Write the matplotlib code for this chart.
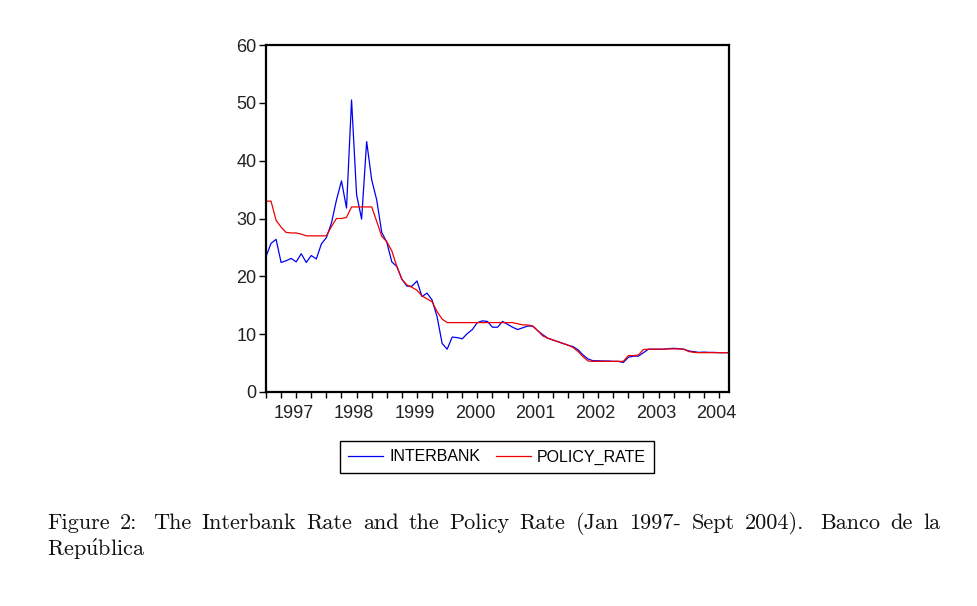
import matplotlib
matplotlib.use('Agg')
import matplotlib.pyplot as plt

# ---------------- data (monthly, Jan 1997 - Sep 2004) ----------------
interbank = [
    23.4, 25.7, 26.4, 22.4, 22.7, 23.1, 22.5, 23.9, 22.4, 23.6, 23.0, 25.6,   # 1997
    26.7, 29.2, 33.2, 36.5, 31.8, 50.5, 34.1, 29.9, 43.3, 36.7, 33.2, 27.6,   # 1998
    25.9, 22.5, 21.7, 19.5, 18.3, 18.3, 19.2, 16.5, 17.1, 15.9, 13.0, 8.4,    # 1999
    7.4, 9.5, 9.4, 9.2, 10.1, 10.8, 12.0, 12.3, 12.2, 11.2, 11.2, 12.2,       # 2000
    11.7, 11.2, 10.8, 11.1, 11.4, 11.4, 10.6, 9.9, 9.3, 9.0, 8.7, 8.4,        # 2001
    8.1, 7.85, 7.3, 6.4, 5.7, 5.4, 5.4, 5.36, 5.36, 5.3, 5.3, 5.1,            # 2002
    6.0, 6.2, 6.2, 6.8, 7.4, 7.4, 7.4, 7.4, 7.5, 7.55, 7.5, 7.4,              # 2003
    7.1, 6.97, 6.85, 6.9, 6.85, 6.85, 6.8, 6.8, 6.8,                          # 2004
]
policy_rate = [
    33.0, 33.0, 29.7, 28.5, 27.6, 27.5, 27.5, 27.3, 27.0, 27.0, 27.0, 27.0,   # 1997
    27.0, 28.6, 30.0, 30.0, 30.2, 32.0, 32.0, 32.0, 32.0, 32.0, 29.5, 26.9,   # 1998
    26.0, 24.4, 21.7, 19.5, 18.5, 18.1, 17.6, 16.6, 16.1, 15.6, 13.9, 12.6,   # 1999
    12.0, 12.0, 12.0, 12.0, 12.0, 12.0, 12.0, 12.0, 12.0, 12.0, 12.0, 12.0,   # 2000
    12.0, 12.0, 11.8, 11.6, 11.6, 11.4, 10.6, 9.7, 9.3, 9.0, 8.7, 8.4,        # 2001
    8.1, 7.7, 7.0, 6.1, 5.36, 5.3, 5.3, 5.3, 5.3, 5.3, 5.3, 5.3,              # 2002
    6.3, 6.3, 6.4, 7.35, 7.4, 7.4, 7.4, 7.4, 7.45, 7.45, 7.45, 7.4,           # 2003
    7.0, 6.85, 6.8, 6.8, 6.8, 6.8, 6.8, 6.8, 6.8,                             # 2004
]
years = ['1997', '1998', '1999', '2000', '2001', '2002', '2003', '2004']
y_ticks = [0, 10, 20, 30, 40, 50, 60]
series_names = ['INTERBANK', 'POLICY_RATE']
caption_line1 = 'Figure 2:  The Interbank Rate and the Policy Rate (Jan 1997- Sept 2004).  Banco de la'
caption_line2 = r'Rep$\acute{\mathrm{u}}$blica'   # "República"

# ---------------- figure ----------------
W, H = 977, 606
plt.rcParams['font.family'] = ['Liberation Sans', 'DejaVu Sans']
plt.rcParams['mathtext.fontset'] = 'cm'
fig = plt.figure(figsize=(W / 100, H / 100), dpi=100)
ax = fig.add_axes([266 / W, 1 - 392 / H, 463 / W, 347 / H])

n = len(interbank)
x = list(range(n))
ax.plot(x, interbank, color='#0000f0', lw=0.9, label=series_names[0])
ax.plot(x, policy_rate, color='#f00000', lw=0.9, label=series_names[1])

ax.set_xlim(0, n - 1)
ax.set_ylim(0, 60)
ax.set_yticks(y_ticks)
ax.set_xticks(list(range(0, n, 3)))
ax.set_xticklabels([])
ax.set_xticks([12 * k + 5.5 for k in range(len(years))], labels=years, minor=True)
ax.tick_params(axis='x', which='minor', length=0, pad=9, labelsize=13, colors='#222222')
ax.tick_params(axis='x', which='major', length=4.5, width=1, direction='out')
ax.tick_params(axis='y', length=5, width=1, direction='out', labelsize=13, pad=2,
               labelcolor='#222222')
for s in ax.spines.values():
    s.set_linewidth(1.6)

leg = fig.legend(loc='center', bbox_to_anchor=(497 / W, 1 - 457 / H), ncol=2,
                 fontsize=11.5, frameon=True, fancybox=False, edgecolor='black',
                 framealpha=1, handlelength=2.2, handletextpad=0.35,
                 columnspacing=1.0, borderpad=0.5)
leg.get_frame().set_linewidth(1.0)

# ---------------- justified caption ----------------
cap_font = dict(fontsize=16, family=['cmr10', 'DejaVu Serif'], color='#111111')
words = caption_line1.split(' ')
words = [w for w in words if w != '']
fig.canvas.draw()
r = fig.canvas.get_renderer()
texts = [fig.text(0, 1 - 529 / H, w, va='baseline', ha='left', **cap_font) for w in words]
widths = [t.get_window_extent(r).width for t in texts]
weights = [1.6 if (w.endswith(':') or w.endswith('.')) else 1.0 for w in words[:-1]]
gap = (940 - 47 - sum(widths)) / sum(weights)
xpos = 47.0
for i, (t, w) in enumerate(zip(texts, widths)):
    t.set_x(xpos / W)
    if i < len(weights):
        xpos += w + gap * weights[i]
fig.text(47 / W, 1 - 556 / H, caption_line2, va='baseline', ha='left', **cap_font)

fig.savefig('out.png', dpi=100, facecolor='white')
